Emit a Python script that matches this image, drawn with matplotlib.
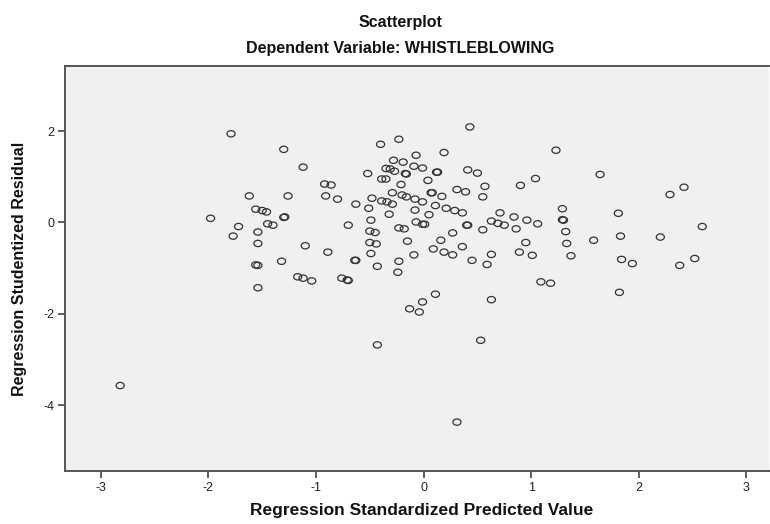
import matplotlib
matplotlib.use("Agg")
import matplotlib.pyplot as plt
import numpy as np
from matplotlib.path import Path

# ── Data ──────────────────────────────────────────────────────────────────── #
pred = [
    -1.79, -1.30, -1.12, -1.62, -1.26, -1.98, -1.56, -1.50, -1.46, -1.72,
    -1.77, -1.54, -1.45, -1.40, -1.30, -1.29, -1.54, -1.10, -1.56, -1.54,
    -1.32, -1.54, -1.17, -1.12, -1.04, -0.92, -0.86, -0.91, -0.80, -0.63,
    -0.70, -0.89, -0.64, -0.63, -0.76, -0.71, -0.70, -0.52, -0.40, -0.23,
    -0.28, -0.19, -0.07, -0.09, -0.35, -0.31, -0.27, -0.17, -0.16, -0.39,
    -0.35, -0.21, -0.29, -0.20, -0.16, -0.08, -0.48, -0.39, -0.34, -0.29,
    -0.51, -0.32, -0.08, -0.49, -0.07, -0.50, -0.45, -0.23, -0.18, -0.50,
    -0.44, -0.15, -0.49, -0.09, -0.43, -0.23, -0.24,
    0.43, 0.19, -0.01, 0.12, 0.13, 0.41, 0.50, 0.04, 0.90, 1.04,
    1.23, 1.64, 2.29, 2.42, 0.31, 0.39, 0.57, 0.55, 0.07, 0.08,
    0.17, -0.01, 0.11, 0.21, 0.29, 0.36, 0.05, 0.71, 0.84, 1.29,
    1.29, 1.30, 1.81, -0.01, 0.01, 0.40, 0.41, 0.63, 0.69, 0.75,
    0.86, 0.96, 1.06, 0.55, 0.27, 1.32, 2.59, 0.16, 0.36, 0.09,
    0.19, 0.27, 0.95, 1.33, 1.58, 1.83, 2.20, 0.45, 0.63, 0.59,
    0.89, 1.01, 1.37, 1.84, 1.94, 2.38, 2.52, 1.09, 1.18, 0.11,
    0.63, 1.82,
    -2.82, -0.43, -0.13, -0.04, -0.01, 0.53, 0.31,
]
resid = [
    1.94, 1.60, 1.21, 0.58, 0.58, 0.09, 0.29, 0.26, 0.23, -0.09,
    -0.30, -0.21, -0.03, -0.06, 0.11, 0.12, -0.46, -0.51, -0.93, -0.94,
    -0.85, -1.43, -1.19, -1.22, -1.28, 0.84, 0.82, 0.58, 0.51, 0.40,
    -0.06, -0.65, -0.83, -0.83, -1.22, -1.26, -1.27, 1.07, 1.71, 1.82,
    1.36, 1.32, 1.47, 1.23, 1.18, 1.17, 1.12, 1.07, 1.06, 0.95,
    0.95, 0.83, 0.65, 0.60, 0.56, 0.51, 0.53, 0.47, 0.45, 0.40,
    0.31, 0.18, 0.27, 0.05, 0.01, -0.19, -0.22, -0.12, -0.14, -0.44,
    -0.47, -0.41, -0.68, -0.71, -0.96, -0.85, -1.09,
    2.09, 1.53, 1.19, 1.10, 1.10, 1.15, 1.08, 0.92, 0.81, 0.96,
    1.58, 1.05, 0.61, 0.77, 0.72, 0.67, 0.79, 0.56, 0.65, 0.65,
    0.57, 0.45, 0.37, 0.31, 0.26, 0.21, 0.17, 0.21, 0.12, 0.30,
    0.06, 0.05, 0.20, -0.04, -0.04, -0.06, -0.06, 0.03, -0.02, -0.06,
    -0.14, 0.05, -0.03, -0.16, -0.23, -0.20, -0.09, -0.39, -0.53, -0.58,
    -0.65, -0.71, -0.44, -0.46, -0.39, -0.30, -0.32, -0.83, -0.70, -0.92,
    -0.65, -0.72, -0.73, -0.81, -0.90, -0.94, -0.79, -1.30, -1.33, -1.57,
    -1.69, -1.53,
    -3.57, -2.68, -1.89, -1.96, -1.74, -2.58, -4.37,
]

x_ticks = [-3, -2, -1, 0, 1, 2, 3]
y_ticks = [-4, -2, 0, 2]

# ── Style ──────────────────────────────────────────────────────────────────── #
plt.rcParams.update({
    "font.family": ["Liberation Sans", "DejaVu Sans"],
    "axes.unicode_minus": False,
})

W, H = 770, 524
fig = plt.figure(figsize=(W / 100, H / 100), dpi=100)
ax = fig.add_axes([65.3 / W, 1 - 471 / H, (769 - 65.3) / W, (471 - 65.7) / H])
ax.set_facecolor("#f0f0f0")

# SPSS draws slightly flattened open circles
t = np.linspace(0, 2 * np.pi, 40)
ellipse = Path(np.column_stack([np.cos(t), 0.78 * np.sin(t)]), closed=True)

ax.scatter(pred, resid, marker=ellipse, s=34, facecolors="none",
           edgecolors="#333333", linewidths=0.9)

ax.set_xlim(-3.33, 3.21)
ax.set_ylim(-5.44, 3.43)
ax.set_xticks(x_ticks)
ax.set_yticks(y_ticks)
ax.tick_params(axis="both", direction="out", length=5, width=1.2,
               color="#444444", labelsize=9, labelcolor="#222222", pad=3)

for side in ["left", "bottom", "top"]:
    ax.spines[side].set_color("#555555")
    ax.spines[side].set_linewidth(1.4)
ax.spines["right"].set_visible(False)

fig.text(400 / W, 1 - 22 / H, "Scatterplot", ha="center", va="center",
         fontsize=11.5, fontweight="bold", color="#111111")
fig.text(400 / W, 1 - 49 / H, "Dependent Variable: WHISTLEBLOWING",
         ha="center", va="center", fontsize=11.5, fontweight="bold", color="#111111")
fig.text(422 / W, 1 - 510 / H, "Regression Standardized Predicted Value",
         ha="center", va="center", fontsize=12.5, fontweight="bold", color="#111111")
fig.text(20 / W, 1 - 269 / H, "Regression Studentized Residual",
         ha="center", va="center", rotation=90, fontsize=11.5,
         fontweight="bold", color="#111111")

fig.savefig("out.png", dpi=100)
